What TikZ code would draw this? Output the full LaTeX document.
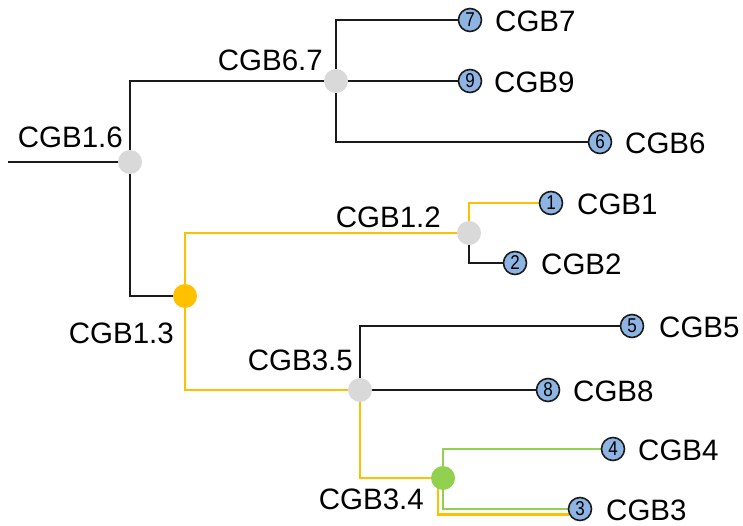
\documentclass[tikz,border=0pt]{standalone}
\usepackage{fontspec}
\setmainfont{Liberation Sans}
\newfontfamily\numfont[FakeStretch=0.85]{Liberation Sans}
\pgfdeclarelayer{bg}
\pgfsetlayers{bg,main}
\definecolor{cOrange}{HTML}{FFC000}
\definecolor{cGreen}{HTML}{92D050}
\definecolor{cGray}{HTML}{D9D9D9}
\definecolor{cBlue}{HTML}{8EB4E3}
\definecolor{cLine}{HTML}{1A1A1A}
\tikzset{
  inner/.style={circle,fill=cGray,minimum size=24pt,inner sep=0pt},
  leaf/.style={circle,fill=cBlue,draw=cLine,line width=1.6pt,minimum size=23pt,inner sep=0pt,font=\numfont\fontsize{20}{20}\selectfont},
  lbl/.style={inner sep=0pt,font=\fontsize{29.5}{34}\selectfont,text=black},
  blk/.style={draw=cLine,line width=2.1pt},
  org/.style={draw=cOrange,line width=2.9pt},
  grn/.style={draw=cGreen,line width=2.7pt},
}
\begin{document}
\begin{tikzpicture}[x=1pt,y=-1pt]
\useasboundingbox (0,0) rectangle (743,526);
% internal nodes
\node[inner] (n16) at (130,162) {};
\node[inner] (n67) at (336,81) {};
\node[inner,fill=cOrange] (n13) at (185,296) {};
\node[inner] (n12) at (469,233) {};
\node[inner] (n35) at (360,390) {};
\node[inner,fill=cGreen] (n34) at (443,478) {};
% leaves
\node[leaf] (l7) at (470,20) {7};
\node[leaf] (l9) at (470,81) {9};
\node[leaf] (l6) at (600,142) {6};
\node[leaf] (l1) at (551,203) {1};
\node[leaf] (l2) at (515,263) {2};
\node[leaf] (l5) at (632,326) {5};
\node[leaf] (l8) at (548,390) {8};
\node[leaf] (l4) at (613,449) {4};
\node[leaf] (l3) at (580,509) {3};
% leaf labels
\node[lbl,anchor=west] (t7) at (495,21) {CGB7};
\node[lbl,anchor=west] (t9) at (494,82) {CGB9};
\node[lbl,anchor=west] (t6) at (625,143) {CGB6};
\node[lbl,anchor=west] (t1) at (577,204) {CGB1};
\node[lbl,anchor=west] (t2) at (541,264) {CGB2};
\node[lbl,anchor=west] (t5) at (659,327) {CGB5};
\node[lbl,anchor=west] (t8) at (573,391) {CGB8};
\node[lbl,anchor=west] (t4) at (638,450) {CGB4};
\node[lbl,anchor=west] (t3) at (606,510) {CGB3};
% internal labels
\node[lbl,anchor=east] (s16) at (123,137) {CGB1.6};
\node[lbl,anchor=east] (s67) at (323,60) {CGB6.7};
\node[lbl,anchor=east] (s12) at (441,217) {CGB1.2};
\node[lbl,anchor=east] (s13) at (174,333) {CGB1.3};
\node[lbl,anchor=east] (s35) at (353,360) {CGB3.5};
\node[lbl,anchor=east] (s34) at (424,499) {CGB3.4};
% connectors
\coordinate (root) at (8,162);
\coordinate (o34) at (438,478);
\begin{pgfonlayer}{bg}
\draw[blk] (root) -- (n16);
\draw[blk] (n16) |- (n67);
\draw[blk] (n16) |- (n13);
\draw[blk] (n67) |- (l7);
\draw[blk] (n67) -- (l9);
\draw[blk] (n67) |- (l6);
\draw[org] (n13) |- (n12);
\draw[org] (n13) |- (n35);
\draw[org] (n12) |- (l1);
\draw[blk] (n12) |- (l2);
\draw[blk] (n35) |- (l5);
\draw[blk] (n35) -- (l8);
\draw[org] (n35) |- (n34);
\draw[org] (o34) |- (l3.205);
\draw[grn] (n34) |- (l4);
\draw[grn] (n34) |- (l3);
\end{pgfonlayer}
\end{tikzpicture}
\end{document}
